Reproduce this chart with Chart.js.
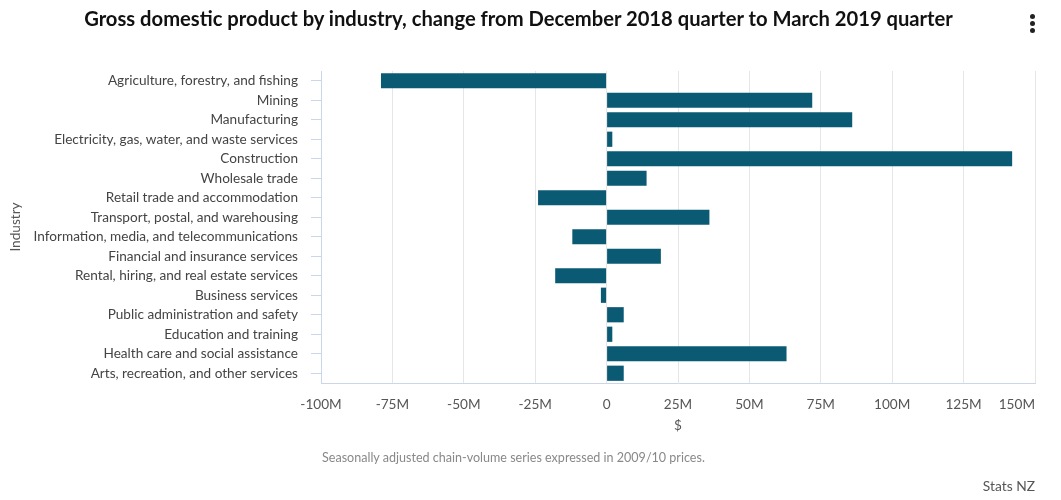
<!DOCTYPE html>
<html><head><meta charset="utf-8">
<script src="https://cdn.jsdelivr.net/npm/chart.js@4.4.1/dist/chart.umd.min.js"></script>
<style>
html,body{margin:0;padding:0;background:#fff;}
#wrap{position:relative;width:1061px;height:500px;font-family:Lato,"Open Sans",sans-serif;overflow:hidden;}
#c{position:absolute;left:0;top:0;}
#title{position:absolute;left:0;width:1037px;top:6px;text-align:center;font-weight:700;font-size:20.2px;color:#111;white-space:nowrap;}
#note{position:absolute;left:322px;top:450px;font-size:12.55px;color:#888;white-space:nowrap;}
#credit{position:absolute;right:26px;top:477px;font-size:13.8px;color:#555;white-space:nowrap;}
.dot{position:absolute;left:1030px;width:5px;height:5px;border-radius:50%;background:#222;}
</style></head>
<body>
<div id="wrap">
<canvas id="c" width="1061" height="500"></canvas>
<div id="title">Gross domestic product by industry, change from December 2018 quarter to March 2019 quarter</div>
<div class="dot" style="top:14px"></div><div class="dot" style="top:21px"></div><div class="dot" style="top:28px"></div>
<div id="note">Seasonally adjusted chain-volume series expressed in 2009/10 prices.</div>
<div id="credit">Stats NZ</div>
</div>
<script>
const categories = [
  "Agriculture, forestry, and fishing",
  "Mining",
  "Manufacturing",
  "Electricity, gas, water, and waste services",
  "Construction",
  "Wholesale trade",
  "Retail trade and accommodation",
  "Transport, postal, and warehousing",
  "Information, media, and telecommunications",
  "Financial and insurance services",
  "Rental, hiring, and real estate services",
  "Business services",
  "Public administration and safety",
  "Education and training",
  "Health care and social assistance",
  "Arts, recreation, and other services"
];
// change in $ millions
const changeMillions = [-79, 72, 86, 2, 142, 14, -24, 36, -12, 19, -18, -2, 6, 2, 63, 6];
const xTickValues = [-100, -75, -50, -25, 0, 25, 50, 75, 100, 125, 150];
const xTickLabels = ["-100M", "-75M", "-50M", "-25M", "0", "25M", "50M", "75M", "100M", "125M", "150M"];

const FONT = 'Lato, "Open Sans", sans-serif';

// keep the last x tick label inside the plot (right-justified), like the original
const justifyLastLabel = {
  id: 'justifyLastLabel',
  beforeDraw(chart) {
    const sx = chart.scales.x;
    const items = sx.getLabelItems();
    if (!items.length) return;
    const last = items[items.length - 1];
    last.options.textAlign = 'right';
    last.options.translation = [sx.right, last.options.translation[1]];
  }
};

new Chart(document.getElementById('c'), {
  type: 'bar',
  data: {
    labels: categories,
    datasets: [{
      data: changeMillions,
      backgroundColor: '#0b5a74',
      borderWidth: 0,
      barPercentage: 0.78,
      categoryPercentage: 1
    }]
  },
  options: {
    indexAxis: 'y',
    responsive: false,
    animation: false,
    devicePixelRatio: 1,
    layout: { padding: { left: 3, top: 71, right: 26, bottom: 57 } },
    plugins: { legend: { display: false }, tooltip: { enabled: false }, title: { display: false } },
    scales: {
      x: {
        type: 'linear',
        min: xTickValues[0],
        max: xTickValues[xTickValues.length - 1],
        afterBuildTicks: s => { s.ticks = xTickValues.map(v => ({ value: v })); },
        afterFit: s => { s.height = 60; s.paddingLeft = 0; s.paddingRight = 0; },
        ticks: {
          callback: (v) => xTickLabels[xTickValues.indexOf(v)],
          color: '#555', font: { family: FONT, size: 13.6 }, padding: 13, maxRotation: 0, autoSkip: false
        },
        grid: { color: '#e6e6e6', drawTicks: false },
        border: { color: '#ccd6eb' },
        title: { display: true, text: '$', color: '#555', font: { family: FONT, size: 13.6 }, padding: { top: 4, bottom: 9 } }
      },
      y: {
        type: 'category',
        afterFit: s => { s.width = 318; s.paddingTop = 0; s.paddingBottom = 0; },
        ticks: { color: '#444', font: { family: FONT, size: 13.6 }, padding: 13, autoSkip: false },
        grid: { drawOnChartArea: false, drawTicks: true, tickLength: 10, color: '#ccd6eb', offset: false },
        border: { color: '#ccd6eb' },
        title: { display: true, text: 'Industry', color: '#555', font: { family: FONT, size: 13.6 }, padding: { top: 4, bottom: 4 } }
      }
    }
  },
  plugins: [justifyLastLabel]
});
</script>
</body></html>
